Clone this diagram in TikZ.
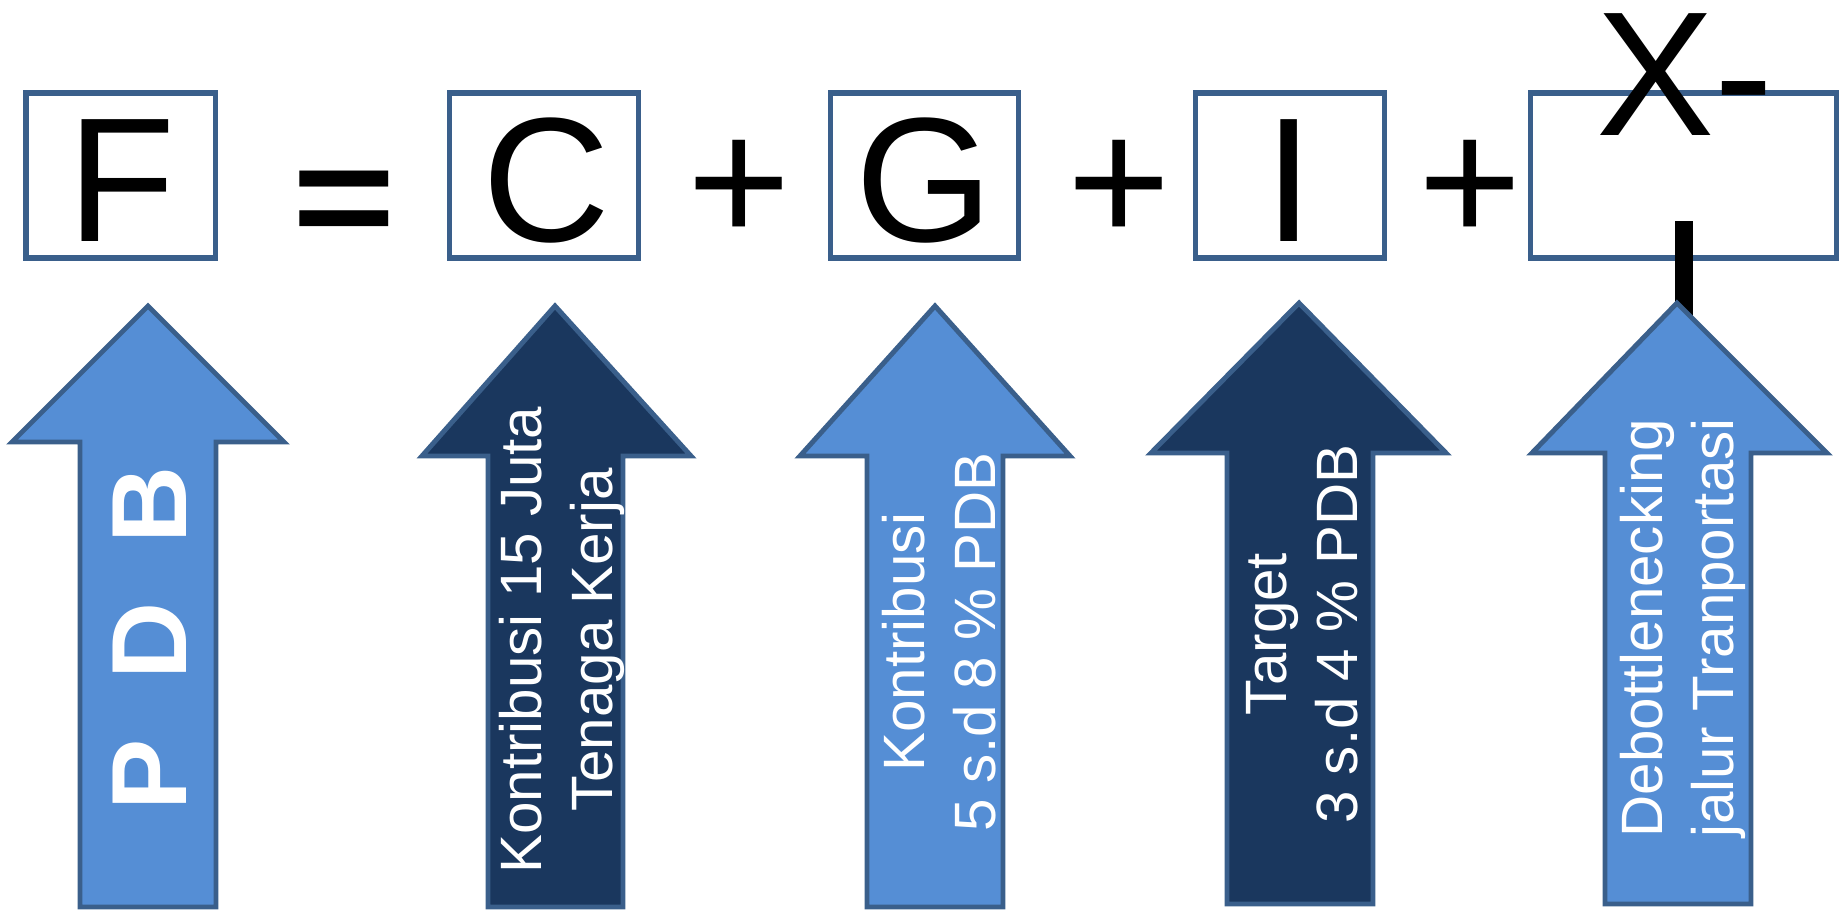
\documentclass[tikz,border=0pt]{standalone}
\usepackage{graphicx}
\usepackage{fontspec}
\setmainfont{Liberation Sans}
\definecolor{boxline}{HTML}{3A5F8B}
\definecolor{lightfill}{HTML}{558ED5}
\definecolor{darkfill}{HTML}{1A375E}
\tikzset{
  termbox/.style={draw=boxline, line width=1.6pt, fill=white},
  bigsym/.style={font=\fontsize{50.4}{60}\selectfont, anchor=base, inner sep=0pt},
  arrlight/.style={draw=boxline, line width=1.4pt, fill=lightfill, line join=miter},
  arrdark/.style={draw=boxline, line width=1.4pt, fill=darkfill, line join=miter},
  arrtext/.style={rotate=90, text=white, align=center, inner sep=0pt,
    font=\fontsize{16.6}{20.2}\selectfont},
}
\newcommand\blockarrow[8]{% style, tipx, tipy, basey, headL, headR, shaftL, shaftR
  \draw[#1] (#2,#3) -- (#6,#4) -- (#8,#4) -- (#8,\arrbottom) -- (#7,\arrbottom) -- (#7,#4) -- (#5,#4) -- cycle;}
\begin{document}
\begin{tikzpicture}[x=0.1mm,y=-0.1mm]
\useasboundingbox (0,0) rectangle (1848,912);
% term boxes
\draw[termbox] (26,93) rectangle (215.5,258);
\draw[termbox] (449.5,93) rectangle (638.5,258);
\draw[termbox] (830.5,93) rectangle (1018.5,258);
\draw[termbox] (1195.5,93) rectangle (1384.5,258);
\draw[termbox] (1530.5,93) rectangle (1836.5,258);
% symbols
\node[bigsym] (F) at (122,242) {F};
\node[bigsym] (eq) at (344,248) {\scalebox{1}[0.83]{\bfseries =}};
\node[bigsym] (C) at (546,242) {C};
\node[bigsym] (p1) at (739,243) {+};
\node[bigsym] (G) at (924,242) {G};
\node[bigsym] (p2) at (1119,243) {+};
\node[bigsym] (I) at (1289,242) {I};
\node[bigsym] (p3) at (1470,243) {+};
\node[bigsym, anchor=base west] (X) at (1596,136) {X-};
\fill[black] (1675,221) rectangle (1693,350);
% arrows
\def\arrbottom{907}
\blockarrow{arrlight}{148}{306}{442}{12}{284}{80}{216}
\blockarrow{arrdark}{555}{306}{456}{422}{691}{488}{623}
\blockarrow{arrlight}{935}{306}{456}{800}{1070}{867}{1003}
\def\arrbottom{904}
\blockarrow{arrdark}{1299}{303}{453}{1151}{1446}{1227}{1373}
\blockarrow{arrlight}{1677}{303}{453}{1532}{1827}{1605}{1751}
% arrow texts
\node[rotate=90, text=white, inner sep=0pt, font=\fontsize{30.4}{36}\selectfont\bfseries] (pdb) at (150,638) {P\hspace{0.556em}D\hspace{0.556em}B};
\node[arrtext] (t2) at (562,640) {Kontribusi 15 Juta\\Tenaga Kerja};
\node[arrtext] (t3) at (939,642) {Kontribusi\\5 s.d 8 \% PDB};
\node[arrtext] (t4) at (1302,634) {Target\\3 s.d 4 \% PDB};
\node[arrtext] (t5) at (1683,628) {Debottlenecking\\jalur Tranportasi};
\end{tikzpicture}
\end{document}
